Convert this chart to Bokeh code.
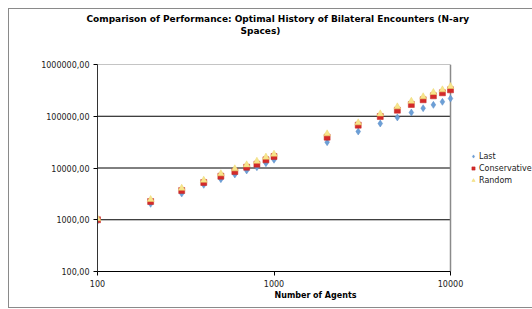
from bokeh.plotting import figure
from bokeh.models import Title, Legend, LegendItem, CustomJSTickFormatter, FixedTicker, Range1d
from bokeh.embed import file_html
from bokeh.resources import INLINE

agents = [100, 200, 300, 400, 500, 600, 700, 800, 900, 1000,
          2000, 3000, 4000, 5000, 6000, 7000, 8000, 9000, 10000]
last = [950, 2030, 3210, 4730, 6080, 7480, 8950, 10350, 12400, 14400,
        31500, 50700, 72400, 94600, 118000, 143000, 166000, 190000, 220000]
conservative = [1000, 2250, 3670, 5250, 6950, 8550, 10350, 11840, 14400, 16700,
                39400, 67300, 98900, 131000, 169000, 208000, 248000, 284000, 324000]
random_ = [1050, 2460, 4070, 5800, 7730, 9640, 11500, 13500, 16200, 18500,
           45700, 74600, 111000, 152000, 195000, 238000, 288000, 324000, 376000]
x_ticks = [100, 1000, 10000]
y_ticks = [100, 1000, 10000, 100000, 1000000]

FONT = "DejaVu Sans"

# geometry: plot area 353 px wide for x_ticks[0]..x_ticks[-1]; frame extends to the right edge for the legend
W, H = 524, 300
LEFT, TOP, BOTTOM = 88, 55, 38
AREA_W = 353
FRAME_W = W - LEFT
decades = 2.0 * FRAME_W / AREA_W
x_end = x_ticks[0] * 10 ** decades

p = figure(width=W, height=H, x_axis_type="log", y_axis_type="log",
           x_range=Range1d(x_ticks[0], x_end), y_range=Range1d(y_ticks[0], y_ticks[-1]),
           output_backend="svg", toolbar_location=None,
           min_border_left=LEFT, min_border_right=0, min_border_top=TOP, min_border_bottom=BOTTOM)
p.styles = {"margin-left": "8px", "margin-top": "8px",
            "border-left": "1px solid #8a8a8a", "border-top": "1px solid #8a8a8a",
            "border-bottom": "1px solid #8a8a8a"}

p.outline_line_color = None
p.background_fill_color = "white"
p.border_fill_color = "white"

# spacer title (closest to the plot), then the two title lines
p.add_layout(Title(text=" ", text_font=FONT, text_font_size="8.7px", standoff=17), "above")
p.add_layout(Title(text="Spaces)", align="left", offset=143, text_font=FONT, text_font_size="9px",
                   standoff=0, text_font_style="bold", text_color="#000000"), "above")
p.add_layout(Title(text="Comparison of Performance: Optimal History of Bilateral Encounters (N-ary",
                   align="left", offset=-11, text_font=FONT, text_font_size="9px", standoff=0,
                   text_font_style="bold", text_color="#000000"), "above")

# gridlines and plot-area border
grid_colors = ["#000000", "#000000", "#000000", "#000000", "#8a8a8a"]
p.segment(x0=[x_ticks[0]] * len(y_ticks), x1=[x_ticks[-1]] * len(y_ticks),
          y0=y_ticks, y1=y_ticks, line_color=grid_colors, line_width=1)
p.segment(x0=[x_ticks[-1]], x1=[x_ticks[-1]], y0=[y_ticks[0]], y1=[y_ticks[-1]],
          line_color="#8a8a8a", line_width=1.5)

r1 = p.scatter(agents, last, marker="diamond", size=7, fill_color="#6C9FD6", line_color="#5A8DC8", line_width=0.5)
r2 = p.scatter(agents, conservative, marker="square", size=6, fill_color="#D42A2A", line_color="#C02020", line_width=0.5)
r3 = p.scatter(agents, random_, marker="triangle", size=7, fill_color="#F7E58C", line_color="#EBD770", line_width=0.5)

p.xgrid.grid_line_color = None
p.ygrid.grid_line_color = None

p.xaxis.ticker = FixedTicker(ticks=x_ticks, minor_ticks=[])
p.yaxis.ticker = FixedTicker(ticks=y_ticks, minor_ticks=[])
p.xaxis.bounds = (x_ticks[0], x_ticks[-1])
p.xaxis.formatter = CustomJSTickFormatter(code="return tick.toFixed(0);")
p.yaxis.formatter = CustomJSTickFormatter(code="return tick.toFixed(2).replace('.', ',');")

for ax in (p.xaxis, p.yaxis):
    ax.major_label_text_font = FONT
    ax.major_label_text_font_size = "8px"
    ax.major_label_text_color = "#222222"
    ax.axis_line_color = "#000000"
    ax.major_tick_line_color = "#000000"
    ax.major_tick_out = 4
    ax.major_tick_in = 0
    ax.minor_tick_line_color = None
p.yaxis.axis_line_color = "#333333"
p.yaxis.major_label_standoff = 4
p.xaxis.major_label_standoff = 4

p.xaxis.axis_label = "Number of Agents"
p.xaxis.axis_label_text_font = FONT
p.xaxis.axis_label_text_font_size = "8px"
p.xaxis.axis_label_text_font_style = "bold"
p.xaxis.axis_label_text_color = "#000000"
p.xaxis.axis_label_standoff = 1

legend = Legend(items=[LegendItem(label="Last", renderers=[r1]),
                       LegendItem(label="Conservative", renderers=[r2]),
                       LegendItem(label="Random", renderers=[r3])],
                location=(372, 85), orientation="vertical",
                label_text_font=FONT, label_text_font_size="8px", label_text_color="#222222",
                glyph_width=8, glyph_height=12, label_height=12, label_standoff=2,
                spacing=0, padding=0, margin=0, border_line_color=None,
                background_fill_alpha=0)
p.add_layout(legend, "center")

open("out.html", "w").write(file_html(p, INLINE))
